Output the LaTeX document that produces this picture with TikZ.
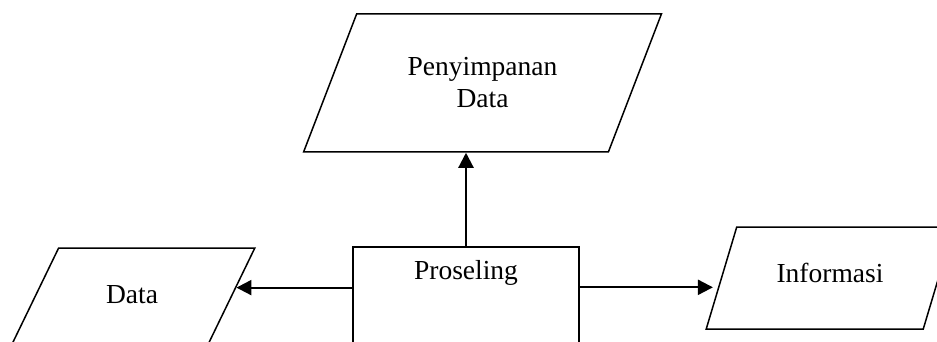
\documentclass[tikz,border=0pt]{standalone}
\usepackage{fontspec}
\setmainfont{Liberation Serif}
\usetikzlibrary{shapes.geometric,arrows.meta,calc}

\begin{document}
\begin{tikzpicture}[x=1pt,y=1pt,yscale=-1,xscale=1,
    para/.style={draw,line width=1.5pt,trapezium,trapezium left angle=58,trapezium right angle=122,
        trapezium stretches,inner sep=0pt,font=\fontsize{27.5}{32}\selectfont},
    paratext/.style={text height=18pt,text depth=10pt},
    procbox/.style={draw,line width=1.5pt,minimum width=226pt,inner ysep=15pt,
        text height=18pt,text depth=80pt,font=\fontsize{27.5}{32}\selectfont},
    flow/.style={line width=2.2pt,-{Triangle[length=15pt,width=15pt]}}]
    \useasboundingbox (0,0) rectangle (937,342);
    \clip (0,0) rectangle (937,342);
    \node[para,align=center,minimum width=359pt,minimum height=138pt] (Storage) at (482.5,83) {Penyimpanan\\Data};
    \node[procbox,anchor=north] (Proseling) at (466,246) {Proseling};
    \node[para,paratext,minimum width=246pt,minimum height=102pt] (Data) at (132,299) {Data};
    \node[para,paratext,minimum width=248pt,minimum height=102pt] (Informasi) at (830,278) {Informasi};
    \coordinate (dataIn) at ($(Data.top right corner)!0.39!(Data.bottom right corner)$);
    \coordinate (infoIn) at ($(Informasi.top left corner)!0.59!(Informasi.bottom left corner)$);
    \draw[flow] (Proseling.north) -- (Proseling.north |- Storage.south);
    \draw[flow] (Proseling.west |- dataIn) -- (dataIn);
    \draw[flow] (Proseling.east |- infoIn) -- ([xshift=-5pt]infoIn);
\end{tikzpicture}
\end{document}
